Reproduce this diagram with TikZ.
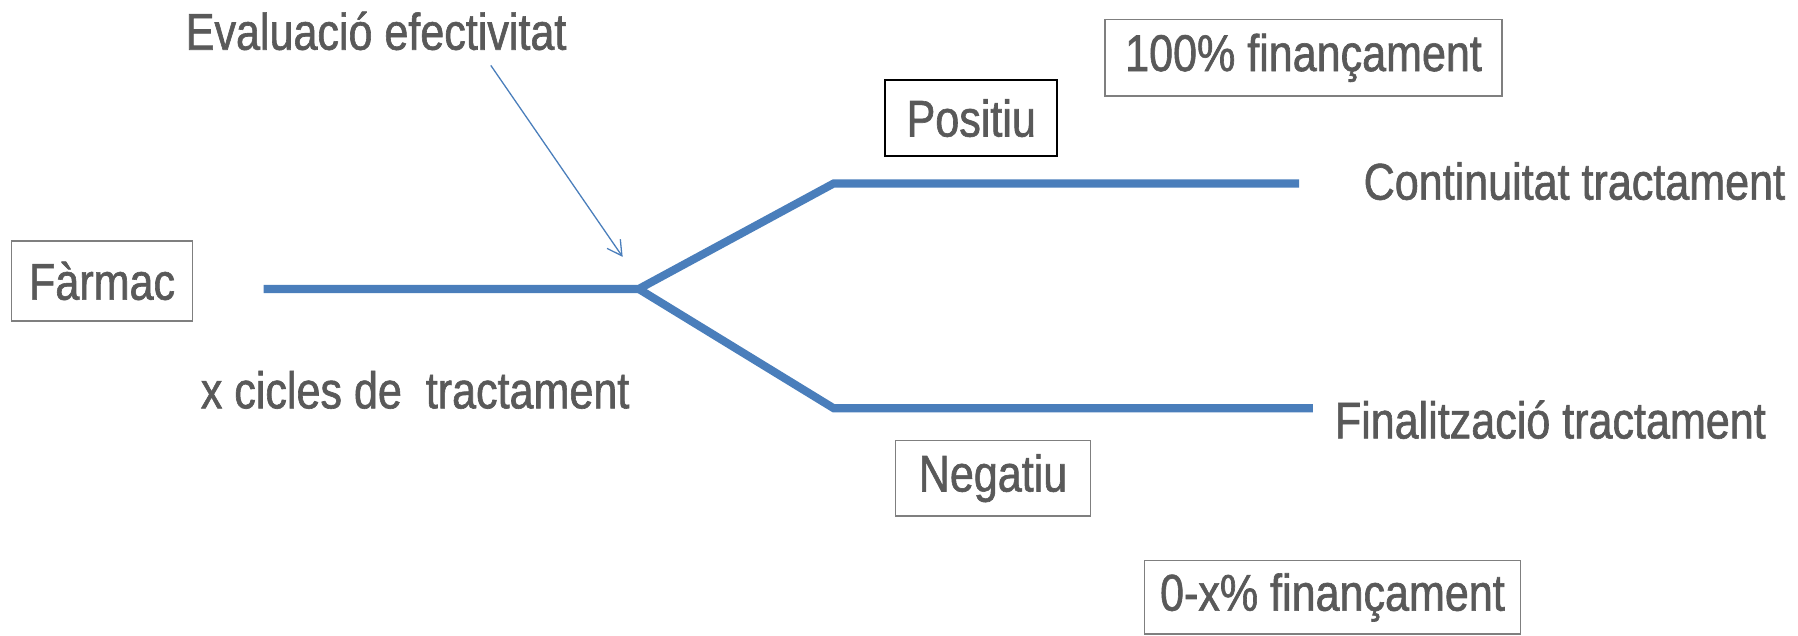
\documentclass[tikz,border=0pt]{standalone}
\usepackage{fontspec}
\setmainfont[FakeStretch=0.835,FakeBold=1.2]{Liberation Sans}
\usepackage{xcolor}
\usetikzlibrary{arrows.meta}
\definecolor{txtgray}{HTML}{595959}
\definecolor{boxgray}{HTML}{7F7F7F}
\definecolor{lineblue}{HTML}{4A7EBB}
\tikzset{
  font={\fontsize{32pt}{38}\selectfont}, text=txtgray}

\begin{document}
\begin{tikzpicture}[scale = 1]

    \tikzset{box/.style = {draw=boxgray, line width=0.9pt, inner sep=0pt},
             blackbox/.style = {draw=black, line width=1.3pt, inner sep=0pt},
             branch/.style = {draw=lineblue, line width=5pt, line join=miter},
             pointer/.style = {-{Straight Barb[length=9pt,width=10pt]}, draw=lineblue, line width=0.8pt}}

    \useasboundingbox (0,0) rectangle (39.2,-13.85);

    % vertices
    \node[box, minimum width=3.95cm, minimum height=1.75cm] (farmac) at (2.225,-6.125) {Fàrmac};
    \node[blackbox, minimum width=3.75cm, minimum height=1.65cm] (positiu) at (21.175,-2.575) {Positiu};
    \node[box, minimum width=8.65cm, minimum height=1.675cm] (cent) at (28.42,-1.26) {100\% finançament};
    \node[box, minimum width=4.25cm, minimum height=1.65cm] (negatiu) at (21.65,-10.425) {Negatiu};
    \node[box, minimum width=8.2cm, minimum height=1.6cm] (zerox) at (29.05,-13.025) {0-x\% finançament};
    \node (eval) at (8.2,-0.675) {Evaluació efectivitat};
    \node (cicles) at (9.05,-8.5) {x cicles de\ \ tractament};
    \node (cont) at (34.325,-3.95) {Continuitat tractament};
    \node (final) at (33.8,-9.15) {Finalització tractament};

    \coordinate (start) at (5.75,-6.3);
    \coordinate (split) at (13.925,-6.3);
    \coordinate (up) at (18.175,-4.0);
    \coordinate (upend) at (28.325,-4.0);
    \coordinate (dn) at (18.175,-8.9);
    \coordinate (dnend) at (28.625,-8.9);
    \coordinate (evalfoot) at (10.7,-1.425);
    \coordinate (evaltip) at (13.575,-5.6);

    %edges
    \draw[branch] (start) -- (split) -- (up) -- (upend);
    \draw[branch] (split) -- (dn) -- (dnend);
    \draw[pointer] (evalfoot) -- (evaltip);

\end{tikzpicture}
\end{document}
